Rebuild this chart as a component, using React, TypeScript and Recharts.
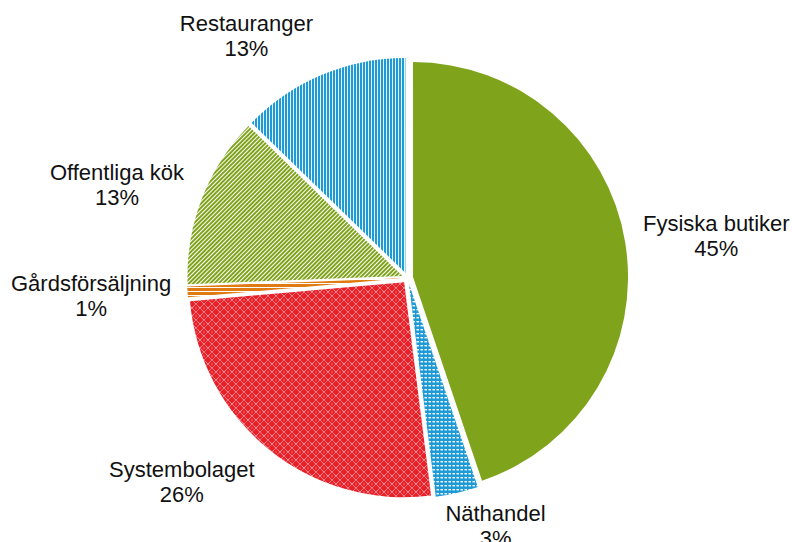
import React from "react";
import { PieChart, Pie, Cell } from "recharts";

const categories = [
  "Fysiska butiker",
  "Näthandel",
  "Systembolaget",
  "Gårdsförsäljning",
  "Offentliga kök",
  "Restauranger",
];
const shares = [44.8, 3.2, 25.6, 0.8, 12.9, 12.7];

const fills = [
  "#7FA31A",
  "url(#patNat)",
  "url(#patSys)",
  "url(#patGard)",
  "url(#patOff)",
  "url(#patRest)",
];

// style: label block centre nudges (px) per slice
const labelNudge = [
  { dx: 67, dy: 0 },
  { dx: 33, dy: -4 },
  { dx: -72, dy: 2 },
  { dx: -72, dy: 2 },
  { dx: -62, dy: 0 },
  { dx: -66, dy: -3 },
];

const W = 792;
const H = 542;
const CX = 407.6;
const CY = 278;
const R = 215;
const EXPLODE = 5.5;
const FONT = "'Liberation Sans', Arial, sans-serif";
const FS = 22;

const data = categories.map((name, i) => ({ name, value: shares[i] }));
const total = shares.reduce((a, b) => a + b, 0);

// mid angle of each slice measured clockwise from 12 o'clock
const mids: number[] = [];
{
  let cum = 0;
  shares.forEach((v) => {
    mids.push(((cum + v / 2) / total) * 2 * Math.PI);
    cum += v;
  });
}

const pct = (v: number) => `${Math.round((v / total) * 100)}%`;

const renderLabel = (props: any) => {
  const i = props.index;
  const th = mids[i];
  const dxr = Math.sin(th);
  const dyr = -Math.cos(th);
  const rr = R + 30;
  const px = CX + rr * dxr + labelNudge[i].dx;
  const yc = CY + rr * dyr + 14 * dyr + labelNudge[i].dy;
  return (
    <g key={`lbl-${i}`}>
      <text
        x={px}
        y={yc - 12.5}
        textAnchor="middle"
        dominantBaseline="central"
        fontFamily={FONT}
        fontSize={FS}
        fill="#111"
      >
        {categories[i]}
      </text>
      <text
        x={px}
        y={yc + 12.5}
        textAnchor="middle"
        dominantBaseline="central"
        fontFamily={FONT}
        fontSize={FS}
        fill="#111"
      >
        {pct(shares[i])}
      </text>
    </g>
  );
};

export default function App() {
  return (
    <div style={{ position: "absolute", left: 0, top: 0, width: W, height: H, background: "#fff" }}>
      <PieChart width={W} height={H} margin={{ top: 0, right: 0, bottom: 0, left: 0 }}>
        <defs>
          <pattern id="patRest" patternUnits="userSpaceOnUse" width="3" height="3">
            <rect x="0" y="0" width="3" height="3" fill="#1E9BD7" />
            <rect x="2" y="0" width="1" height="3" fill="#ffffff" opacity="0.9" />
          </pattern>
          <pattern
            id="patOff"
            patternUnits="userSpaceOnUse"
            width="3"
            height="3"
            patternTransform="rotate(45)"
          >
            <rect x="0" y="0" width="3" height="3" fill="#7FA31A" />
            <rect x="2" y="0" width="1" height="3" fill="#ffffff" />
          </pattern>
          <pattern id="patGard" patternUnits="userSpaceOnUse" width="4" height="4">
            <rect x="0" y="0" width="4" height="4" fill="#E07B14" />
            <rect x="0" y="3" width="4" height="1" fill="#ffffff" />
          </pattern>
          <pattern id="patSys" patternUnits="userSpaceOnUse" width="8" height="8">
            <rect x="0" y="0" width="8" height="8" fill="#E8202A" />
            <path
              d="M0 4 L4 0 L8 4 L4 8 Z"
              fill="none"
              stroke="#ffffff"
              strokeWidth="0.9"
              strokeDasharray="1 0.7"
              opacity="0.85"
            />
            <rect x="3.5" y="3.5" width="1" height="1" fill="#ffffff" opacity="0.7" />
          </pattern>
          <pattern id="patNat" patternUnits="userSpaceOnUse" width="4" height="4">
            <rect x="0" y="0" width="4" height="4" fill="#1E9BD7" />
            <rect x="0.5" y="1" width="2.5" height="1.4" fill="#ffffff" />
          </pattern>
        </defs>
        {data.map((_, i) => (
          <Pie
            key={`pie-${i}`}
            data={data}
            dataKey="value"
            nameKey="name"
            cx={CX + EXPLODE * Math.sin(mids[i])}
            cy={CY - EXPLODE * Math.cos(mids[i])}
            outerRadius={R}
            innerRadius={0}
            startAngle={90}
            endAngle={-270}
            stroke="none"
            isAnimationActive={false}
            labelLine={false}
            label={i === 0 ? renderLabel : false}
          >
            {data.map((__, j) => (
              <Cell key={`c-${i}-${j}`} fill={j === i ? fills[j] : "none"} stroke="none" />
            ))}
          </Pie>
        ))}
      </PieChart>
    </div>
  );
}
